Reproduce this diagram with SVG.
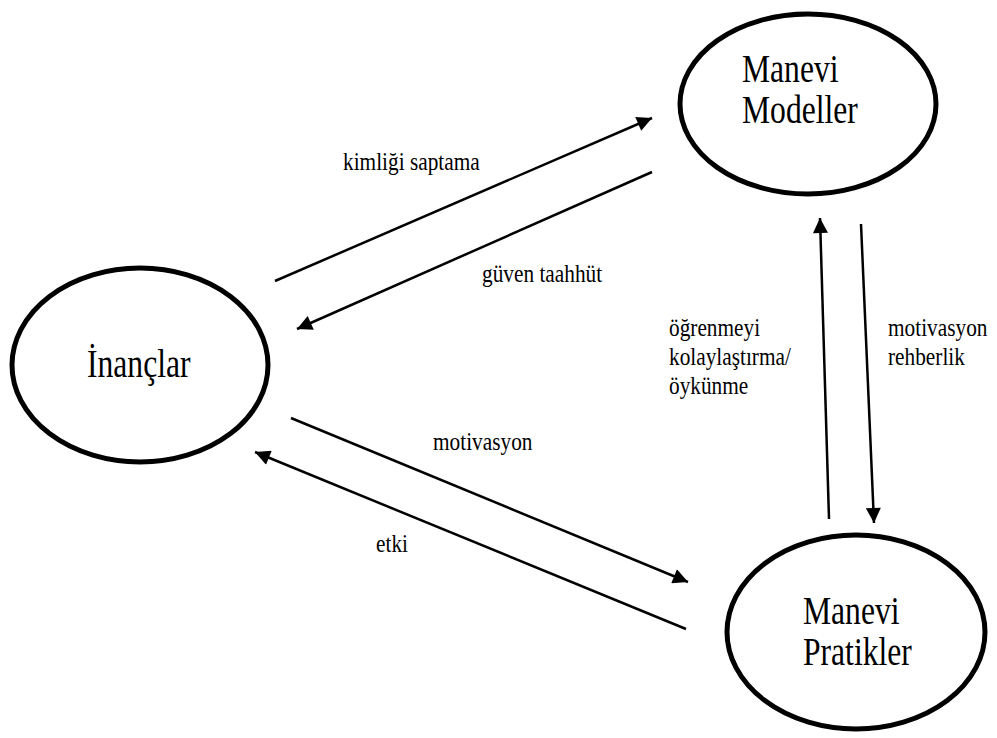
<svg xmlns="http://www.w3.org/2000/svg" width="997" height="738" viewBox="0 0 997 738">
  <style>
    .node { fill: #fff; stroke: #000; stroke-width: 5; }
    .big { font-family: "Liberation Serif", "Times New Roman", serif; font-size: 40px; fill: #000; }
    .lbl { font-family: "Liberation Serif", "Times New Roman", serif; font-size: 26px; fill: #000; }
    .edge { stroke: #000; stroke-width: 2.5; fill: none; marker-end: url(#head); }
  </style>
  <defs>
    <marker id="head" viewBox="0 0 10 10" refX="10" refY="5" markerWidth="7" markerHeight="6" markerUnits="strokeWidth" orient="auto">
      <path d="M0,0 L10,5 L0,10 Z" fill="#000"/>
    </marker>
  </defs>
  <rect width="997" height="738" fill="#fff"/>

  <g id="node-inanclar">
    <ellipse class="node" cx="140" cy="365" rx="128" ry="97"/>
    <text class="big" transform="translate(87 377) scale(0.79 1)">İnançlar</text>
  </g>

  <g id="node-manevi-modeller">
    <ellipse class="node" cx="808" cy="104" rx="128" ry="90"/>
    <text class="big" transform="translate(742 82) scale(0.79 1)">Manevi</text>
    <text class="big" transform="translate(742 123) scale(0.79 1)">Modeller</text>
  </g>

  <g id="node-manevi-pratikler">
    <ellipse class="node" cx="856" cy="632" rx="129" ry="97"/>
    <text class="big" transform="translate(803 624) scale(0.79 1)">Manevi</text>
    <text class="big" transform="translate(803 665) scale(0.79 1)">Pratikler</text>
  </g>

  <g id="connectors">
    <line class="edge" x1="275" y1="281" x2="652" y2="118"/>
    <line class="edge" x1="652" y1="172" x2="297" y2="329"/>
    <line class="edge" x1="291" y1="418" x2="688" y2="582"/>
    <line class="edge" x1="686" y1="629" x2="255" y2="452"/>
    <line class="edge" x1="829" y1="519" x2="820" y2="218"/>
    <line class="edge" x1="861" y1="224" x2="874" y2="523"/>
  </g>

  <g id="labels">
    <text class="lbl" transform="translate(343 170) scale(0.82 1)">kimliği saptama</text>
    <text class="lbl" transform="translate(482 282) scale(0.82 1)">güven taahhüt</text>
    <text class="lbl" transform="translate(433 450) scale(0.82 1)">motivasyon</text>
    <text class="lbl" transform="translate(376 552) scale(0.82 1)">etki</text>
    <text class="lbl" transform="translate(669 336) scale(0.82 1)">öğrenmeyi</text>
    <text class="lbl" transform="translate(669 365) scale(0.82 1)">kolaylaştırma/</text>
    <text class="lbl" transform="translate(669 394) scale(0.82 1)">öykünme</text>
    <text class="lbl" transform="translate(888 336) scale(0.82 1)">motivasyon</text>
    <text class="lbl" transform="translate(888 365) scale(0.82 1)">rehberlik</text>
  </g>
</svg>
